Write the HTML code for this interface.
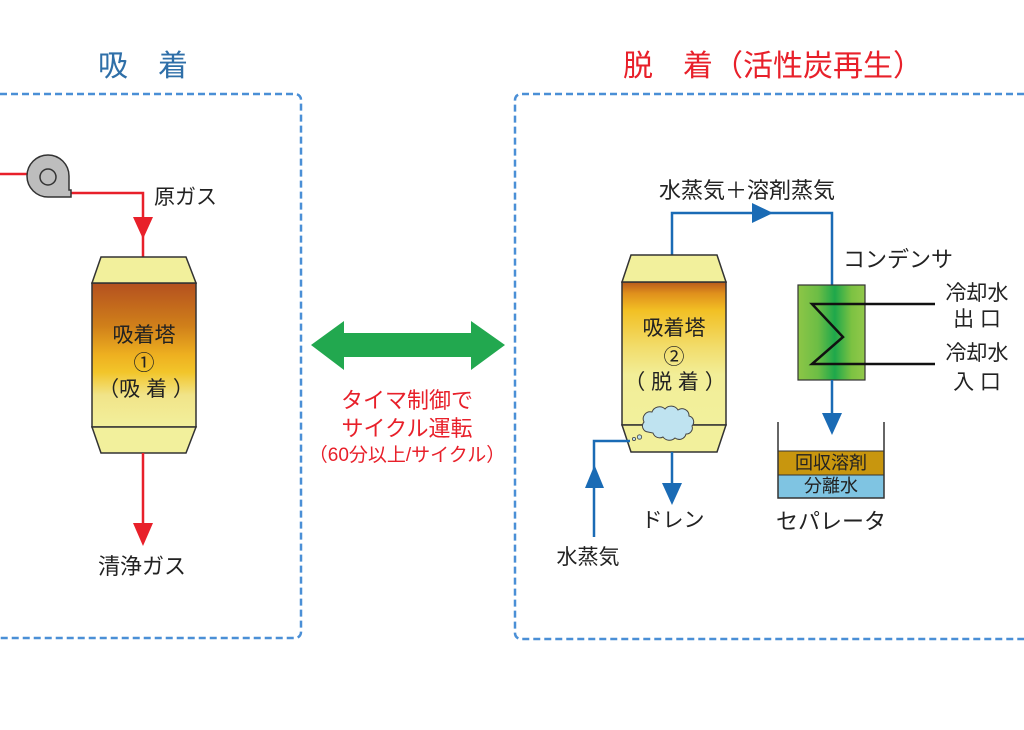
<!DOCTYPE html>
<html><head><meta charset="utf-8">
<style>
html,body{margin:0;padding:0;background:#fff;}
svg{display:block;}
text{font-family:"Liberation Sans","Noto Sans CJK JP",sans-serif;}
</style></head>
<body>
<svg width="1024" height="730" viewBox="0 0 1024 730" xmlns="http://www.w3.org/2000/svg">
<defs>
<linearGradient id="t1" x1="0" y1="0" x2="0" y2="1">
<stop offset="0" stop-color="#b4501f"/>
<stop offset="0.3" stop-color="#d0801a"/>
<stop offset="0.5" stop-color="#eeb020"/>
<stop offset="0.62" stop-color="#f2c52a"/>
<stop offset="0.78" stop-color="#f1e489"/>
<stop offset="1" stop-color="#f2f09c"/>
</linearGradient>
<linearGradient id="t2" x1="0" y1="0" x2="0" y2="1">
<stop offset="0" stop-color="#b85a1c"/>
<stop offset="0.08" stop-color="#e0901c"/>
<stop offset="0.2" stop-color="#f2c024"/>
<stop offset="0.45" stop-color="#f2dc6a"/>
<stop offset="0.65" stop-color="#f2ee98"/>
<stop offset="1" stop-color="#f2f09c"/>
</linearGradient>
<linearGradient id="cg" x1="0" y1="0" x2="1" y2="0">
<stop offset="0" stop-color="#8dc646"/>
<stop offset="0.3" stop-color="#6cbd45"/>
<stop offset="0.55" stop-color="#1ea84b"/>
<stop offset="0.8" stop-color="#7cc242"/>
<stop offset="1" stop-color="#92c84a"/>
</linearGradient>
</defs>

<!-- dashed boxes -->
<path d="M0,94 L295,94 A6,6 0 0 1 301,100 L301,632 A6,6 0 0 1 295,638 L0,638" fill="none" stroke="#4a8fd6" stroke-width="2.5" stroke-dasharray="7 4"/>
<path d="M1024,94 L521,94 A6,6 0 0 0 515,100 L515,633 A6,6 0 0 0 521,639 L1024,639" fill="none" stroke="#4a8fd6" stroke-width="2.5" stroke-dasharray="7 4"/>

<!-- titles -->
<text x="143" y="76" font-size="30" fill="#2f6fa8" text-anchor="middle">吸　着</text>
<text x="623" y="76" font-size="30" fill="#e8202a">脱　着（活性炭再生）</text>

<!-- LEFT: fan & red lines -->
<line x1="0" y1="174" x2="28" y2="174" stroke="#e8202a" stroke-width="2.5"/>
<polyline points="70,193 143,193 143,257" fill="none" stroke="#e8202a" stroke-width="2.5"/>
<path d="M48,197 A21,21 0 1 1 69,176 L69,190 L71,190 L71,197 Z" fill="#bdbdbd" stroke="#333" stroke-width="1.5"/>
<circle cx="48" cy="177" r="8" fill="#bdbdbd" stroke="#333" stroke-width="1.5"/>
<polygon points="133,217 153,217 143,239" fill="#e8202a"/>
<text x="154" y="204" font-size="21" fill="#222">原ガス</text>

<!-- tower 1 -->
<rect x="92" y="283" width="104" height="144" fill="url(#t1)" stroke="#333" stroke-width="1.5"/>
<polygon points="101,257 186,257 196,283 92,283" fill="#f2f09c" stroke="#333" stroke-width="1.5"/>
<polygon points="92,427 196,427 186,453 101,453" fill="#f2f09c" stroke="#333" stroke-width="1.5"/>
<text x="144" y="342" font-size="21" fill="#222" text-anchor="middle">吸着塔</text>
<text x="144" y="370" font-size="21" fill="#222" text-anchor="middle">①</text>
<text x="146" y="396" font-size="21" fill="#222" text-anchor="middle">（吸 着 ）</text>

<line x1="143" y1="453" x2="143" y2="525" stroke="#e8202a" stroke-width="2.5"/>
<polygon points="133,523 153,523 143,546" fill="#e8202a"/>
<text x="142" y="574" font-size="22" fill="#222" text-anchor="middle">清浄ガス</text>

<!-- green double arrow -->
<polygon points="311,345 344,321 344,333 471,333 471,321 505,345 471,370 471,357 344,357 344,370" fill="#22a84f"/>
<text x="407" y="408" font-size="22" fill="#e8202a" text-anchor="middle">タイマ制御で</text>
<text x="407" y="436" font-size="22" fill="#e8202a" text-anchor="middle">サイクル運転</text>
<text x="407" y="461" font-size="19" fill="#e8202a" text-anchor="middle">（60分以上/サイクル）</text>

<!-- RIGHT: blue lines -->
<polyline points="672,255 672,213 832,213 832,285" fill="none" stroke="#1a6bb5" stroke-width="2.5"/>
<polygon points="752,203 773,213 752,223" fill="#1a6bb5"/>
<text x="659" y="198" font-size="22" fill="#222">水蒸気＋溶剤蒸気</text>
<text x="843" y="267" font-size="22" fill="#222">コンデンサ</text>

<!-- tower 2 -->
<rect x="622" y="282" width="104" height="143" fill="url(#t2)" stroke="#333" stroke-width="1.5"/>
<polygon points="631,255 717,255 726,282 622,282" fill="#f2f09c" stroke="#333" stroke-width="1.5"/>
<polygon points="622,425 726,425 717,452 631,452" fill="#f2f09c" stroke="#333" stroke-width="1.5"/>
<text x="674" y="335" font-size="21" fill="#222" text-anchor="middle">吸着塔</text>
<text x="674" y="364" font-size="21" fill="#222" text-anchor="middle">②</text>
<text x="675" y="389" font-size="21" fill="#222" text-anchor="middle">（ 脱 着 ）</text>
<path d="M648,432 a6,6 0 0 1 -4,-10 a7,7 0 0 1 8,-10 a8,8 0 0 1 13,-3 a8,8 0 0 1 13,1 a7,7 0 0 1 11,6 a6,6 0 0 1 3,10 a6,6 0 0 1 -6,8 a7,7 0 0 1 -11,4 a8,8 0 0 1 -12,-1 a7,7 0 0 1 -10,-4 Z" fill="#bfe3f0" stroke="#444" stroke-width="1"/>
<circle cx="634" cy="439" r="1.6" fill="#bfe3f0" stroke="#444" stroke-width="0.8"/>
<circle cx="639.5" cy="437" r="2.2" fill="#bfe3f0" stroke="#444" stroke-width="0.8"/>

<!-- steam inlet -->
<polyline points="594,537 594,441 630,441" fill="none" stroke="#1a6bb5" stroke-width="2.5"/>
<polygon points="585,488 604,488 594.5,465" fill="#1a6bb5"/>
<text x="588" y="564" font-size="21" fill="#222" text-anchor="middle">水蒸気</text>

<!-- drain -->
<line x1="672" y1="452" x2="672" y2="485" stroke="#1a6bb5" stroke-width="2.5"/>
<polygon points="662,483 682,483 672,505" fill="#1a6bb5"/>
<text x="673" y="527" font-size="21" fill="#222" text-anchor="middle">ドレン</text>

<!-- condenser -->
<rect x="798" y="285" width="67" height="95" fill="url(#cg)" stroke="#333" stroke-width="1.2"/>
<polyline points="935,304 812,304 843,337 812,364 935,364" fill="none" stroke="#111" stroke-width="2.5"/>
<text x="977" y="300" font-size="21" fill="#222" text-anchor="middle">冷却水</text>
<text x="977" y="326" font-size="21" fill="#222" text-anchor="middle">出 口</text>
<text x="977" y="360" font-size="21" fill="#222" text-anchor="middle">冷却水</text>
<text x="977" y="389" font-size="21" fill="#222" text-anchor="middle">入 口</text>

<line x1="832" y1="380" x2="832" y2="415" stroke="#1a6bb5" stroke-width="2.5"/>
<polygon points="822,413 842,413 832,435" fill="#1a6bb5"/>

<!-- separator -->
<rect x="778" y="451" width="106" height="24" fill="#c8960e" stroke="#333" stroke-width="1"/>
<rect x="778" y="475" width="106" height="23" fill="#7fc4e2" stroke="#333" stroke-width="1"/>
<polyline points="778,422 778,498 884,498 884,422" fill="none" stroke="#333" stroke-width="1.5"/>
<text x="831" y="469" font-size="18" fill="#222" text-anchor="middle">回収溶剤</text>
<text x="831" y="492" font-size="18" fill="#222" text-anchor="middle">分離水</text>
<text x="831" y="529" font-size="22" fill="#222" text-anchor="middle">セパレータ</text>
</svg>
</body></html>
